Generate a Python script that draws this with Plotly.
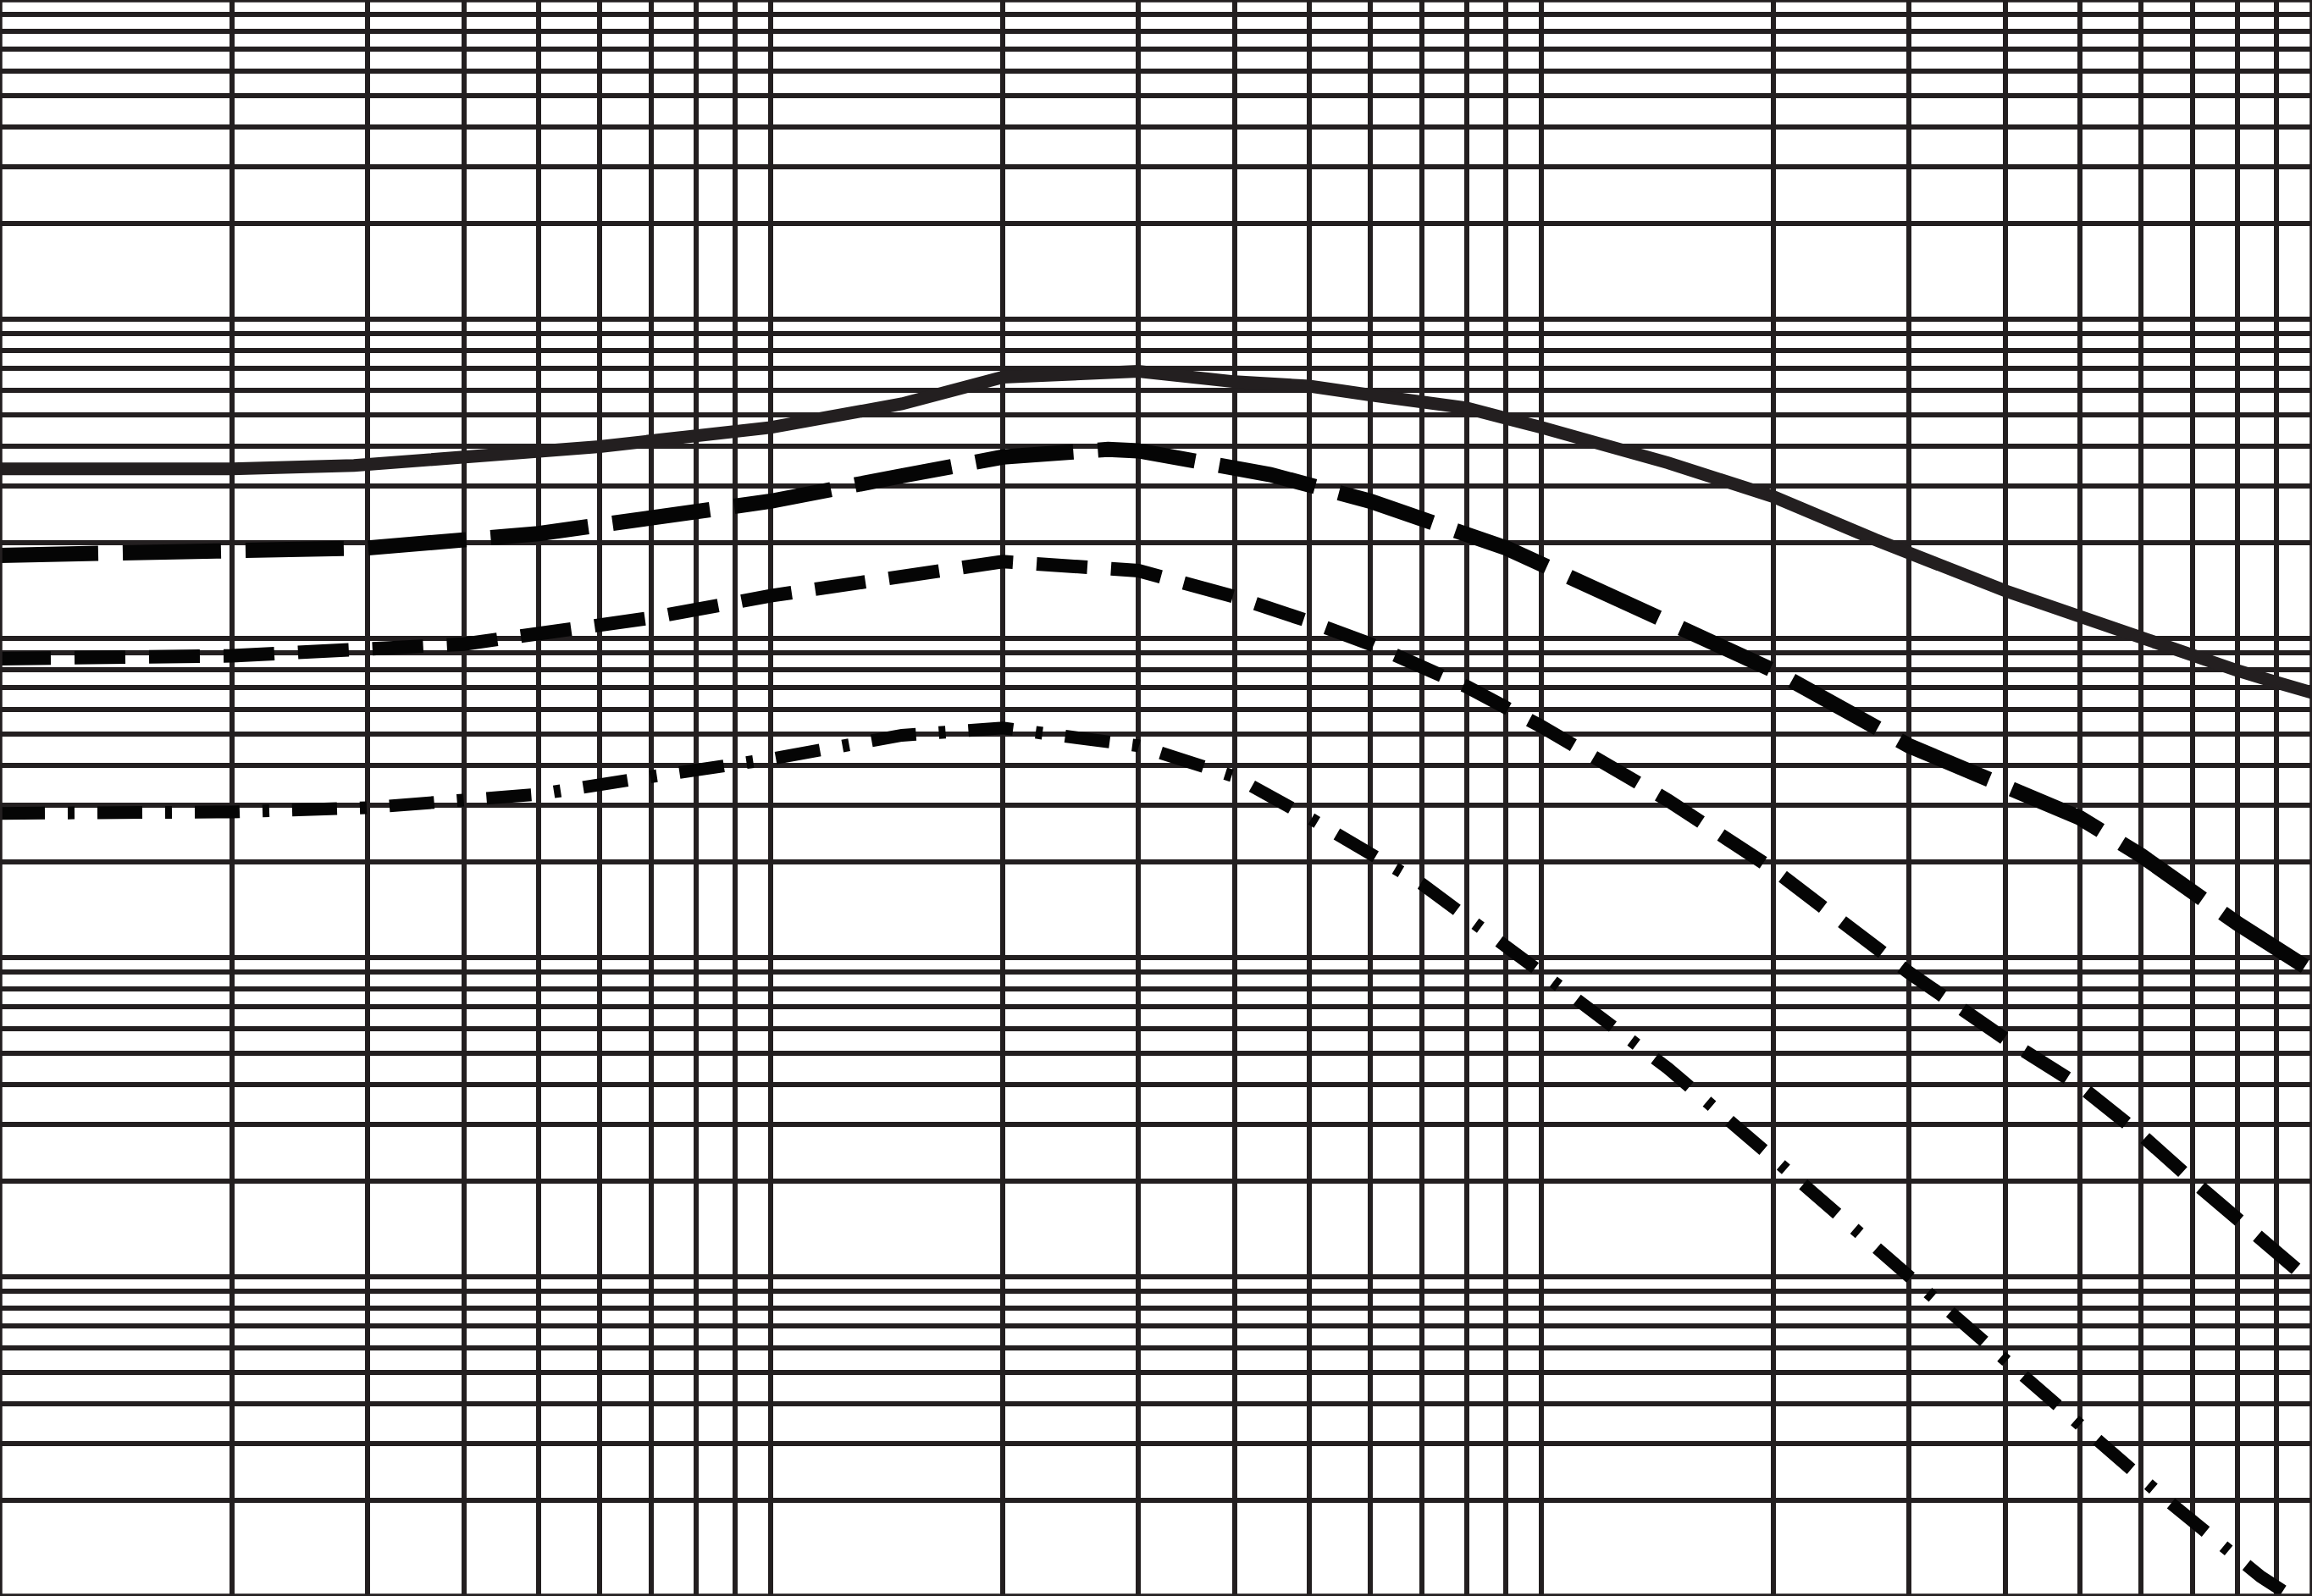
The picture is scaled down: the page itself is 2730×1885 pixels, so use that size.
import plotly.graph_objects as go

# Grid (log-log) tick values
x_grid = [m * 10 ** e for e in (1, 2, 3) for m in range(1, 10)] + [10000]
y_grid = [m * 10.0 ** e for e in (-3, -2, -1, 0, 1) for m in range(1, 10)] + [100]

# Series 1 (solid)
s1_x = [10, 20, 28.8, 50, 60, 100, 148, 200, 251, 300, 400, 500, 600, 800, 1000,
        1460, 2000, 2710, 4000, 6000, 8000, 9000, 10000]
s1_y = [3.40, 3.40, 3.48, 3.87, 3.99, 4.58, 5.43, 6.58, 6.79, 6.87, 6.37, 6.17, 5.79, 5.27, 4.58,
        3.55, 2.78, 2.04, 1.41, 1.00, 0.793, 0.728, 0.676]

# Series 2 (long dash)
s2_x = [10, 20, 30, 50, 70, 100, 148, 200, 274, 300, 445, 600, 900, 1280, 2000,
        3000, 4000, 5000, 6000, 7000, 8000, 10000]
s2_y = [1.82, 1.86, 1.92, 2.13, 2.37, 2.69, 3.23, 3.70, 3.91, 3.87, 3.26, 2.69, 1.92, 1.31, 0.794,
        0.461, 0.343, 0.274, 0.209, 0.160, 0.128, 0.0908]

# Series 3 (medium dash)
s3_x = [10, 20, 40, 70, 100, 148, 200, 300, 400, 500, 600, 800, 1000, 1460, 2000,
        3000, 4000, 5000, 6000, 7000, 8000, 9000, 10000]
s3_y = [0.864, 0.882, 0.96, 1.16, 1.36, 1.58, 1.74, 1.63, 1.35, 1.13, 0.96, 0.706, 0.53, 0.311, 0.189,
        0.0897, 0.0556, 0.0396, 0.0279, 0.020, 0.0153, 0.0119, 0.0096]

# Series 4 (dash-dot)
s4_x = [10, 20, 30, 50, 70, 100, 148, 200, 300, 400, 500, 700, 1000, 1460, 2000,
        3000, 3510, 4113, 5079, 6383, 8579, 9204, 9500]
s4_y = [0.283, 0.286, 0.295, 0.325, 0.369, 0.419, 0.497, 0.524, 0.461, 0.369, 0.274, 0.170, 0.0897,
        0.045, 0.0235, 0.0100, 0.00723, 0.00514, 0.00329, 0.00206, 0.00115, 0.00103, 0.00090]

INK = "#231f20"

fig = go.Figure()
fig.add_trace(go.Scatter(x=s1_x, y=s1_y, mode="lines", line=dict(color=INK, width=15)))
fig.add_trace(go.Scatter(x=s2_x, y=s2_y, mode="lines",
                         line=dict(color="#050505", width=18, dash="116px,29px")))
fig.add_trace(go.Scatter(x=s3_x, y=s3_y, mode="lines",
                         line=dict(color="#050505", width=16, dash="60px,28px")))
fig.add_trace(go.Scatter(x=s4_x, y=s4_y, mode="lines",
                         line=dict(color="#050505", width=15, dash="53px,27px,8px,27px")))

axis_common = dict(type="log", showticklabels=False, ticks="", showline=False,
                   zeroline=False, showgrid=True, gridcolor=INK, gridwidth=5.5, fixedrange=True)

fig.update_layout(
    width=2730, height=1885, autosize=False,
    margin=dict(l=0, r=0, t=0, b=0, pad=0),
    paper_bgcolor="white", plot_bgcolor="white",
    showlegend=False,
    xaxis=dict(range=[1, 4], tickvals=x_grid, **axis_common),
    yaxis=dict(range=[-3, 2], tickvals=y_grid, **axis_common),
    shapes=[dict(type="rect", xref="paper", yref="paper", x0=0, x1=1, y0=0, y1=1,
                 line=dict(color=INK, width=5.5), layer="above")],
)

fig.write_html("out.html", config={"displayModeBar": False},
               post_script="document.body.style.margin='0';document.body.style.overflow='hidden';")
